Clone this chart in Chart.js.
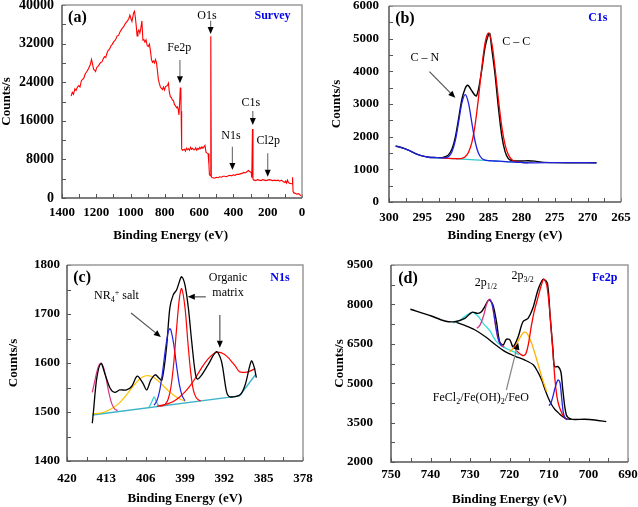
<!DOCTYPE html>
<html lang="en">
<head>
  <meta charset="UTF-8">
  <title>XPS spectra</title>
  <script src="https://cdn.jsdelivr.net/npm/chart.js"></script>
  <style>
    body { margin: 0; background: #fff; }
    #wrap { position: relative; width: 638px; height: 507px; }
    canvas { position: absolute; }
  </style>
</head>
<body>
<div id="wrap">
  <canvas id="chartA" width="319" height="250" style="left:0;top:0"></canvas>
  <canvas id="chartB" width="319" height="250" style="left:319px;top:0"></canvas>
  <canvas id="chartC" width="319" height="257" style="left:0;top:250px"></canvas>
  <canvas id="chartD" width="319" height="257" style="left:319px;top:250px"></canvas>
</div>

<script>
  // (a) survey spectrum
  const surveyE = [1347, 1340, 1333, 1325, 1318, 1310, 1302, 1295, 1287, 1280, 1272, 1265, 1257, 1250, 1242, 1235, 1228, 1222, 1216, 1210, 1204, 1198, 1190, 1182, 1175, 1167, 1160, 1152, 1145, 1138, 1130, 1122, 1115, 1108, 1100, 1092, 1085, 1078, 1070, 1062, 1055, 1048, 1040, 1032, 1025, 1018, 1010, 1004, 998, 992, 987, 982, 977, 972, 966, 962, 957, 952, 946, 940, 934, 928, 922, 916, 910, 903, 897, 890, 884, 878, 872, 866, 860, 855, 849, 843, 838, 832, 826, 820, 814, 808, 802, 796, 790, 784, 779, 774, 768, 762, 756, 750, 744, 738, 732, 727, 722, 718, 714, 710, 707, 705, 703, 701, 698, 692, 686, 680, 674, 668, 662, 656, 650, 644, 638, 632, 626, 620, 614, 608, 602, 596, 590, 584, 578, 572, 566, 560, 554, 548, 543, 540, 535, 532, 529, 525, 518, 510, 500, 490, 480, 470, 460, 450, 440, 430, 420, 410, 400, 390, 380, 370, 360, 350, 340, 330, 320, 312, 306, 300, 296, 293, 289, 286, 282, 278, 270, 260, 250, 240, 230, 220, 210, 200, 190, 180, 170, 160, 150, 140, 130, 120, 110, 100, 95, 90, 85, 80, 75, 70, 62, 58, 55, 52, 48, 40, 30, 20, 12, 5, 2];
  const surveyCounts = [21100, 21900, 21500, 22600, 22300, 23000, 23300, 23000, 24300, 24600, 24900, 25700, 26100, 26500, 27100, 27600, 28700, 27800, 26700, 26500, 26200, 27000, 27300, 27700, 28100, 28200, 28800, 29300, 29100, 30000, 30600, 30900, 31500, 31800, 32300, 32600, 33000, 33600, 33700, 34400, 34800, 35200, 35500, 36100, 36400, 36700, 37200, 37900, 37200, 36600, 37500, 38400, 38700, 37400, 35300, 33600, 34500, 34800, 34200, 35200, 36700, 32700, 32800, 32300, 32800, 31600, 31400, 31900, 30500, 28700, 28100, 28400, 28000, 28700, 28100, 26300, 24600, 23700, 23000, 22700, 22500, 23000, 22400, 23100, 23200, 23400, 23800, 22000, 21000, 20800, 20300, 20200, 19400, 19100, 18700, 18900, 18400, 17200, 19500, 22800, 22900, 18000, 13000, 10200, 9900, 10000, 10100, 9700, 10300, 10000, 10200, 9900, 10500, 10100, 10300, 10000, 10000, 10400, 9900, 10300, 10100, 10500, 10200, 10600, 10300, 10600, 10900, 9500, 9300, 9200, 7000, 4800, 4600, 33500, 4400, 4200, 4200, 4100, 4300, 4200, 4400, 4300, 4500, 4500, 4400, 4600, 4700, 4600, 4800, 4700, 4900, 4900, 5000, 5100, 5300, 5200, 5500, 5700, 5500, 5400, 5300, 4200, 14300, 3900, 3700, 3700, 3600, 3800, 3700, 3600, 3800, 3700, 3600, 3700, 3800, 3700, 3600, 3700, 3600, 3700, 3500, 3700, 3400, 3200, 3500, 3100, 3700, 3300, 3100, 3000, 3000, 2900, 4300, 1300, 1100, 1000, 800, 900, 600, 500, 250];

  // (b) C1s
  const c1sE = [299, 298, 297, 296, 295, 294, 293, 292, 291.5, 291, 290.5, 290, 289.5, 289, 288.5, 288.2, 288, 287.5, 287, 286.8, 286.5, 286, 285.5, 285, 284.8, 284.5, 284, 283.5, 283, 282.5, 282, 281.5, 281, 280, 279, 278, 277, 275, 272, 268.7];
  const c1sCounts = [1714, 1660, 1580, 1480, 1410, 1370, 1360, 1360, 1385, 1450, 1620, 1980, 2550, 3150, 3480, 3570, 3560, 3400, 3260, 3250, 3450, 4050, 4750, 5130, 5160, 4700, 3900, 2900, 2050, 1550, 1330, 1270, 1255, 1255, 1265, 1250, 1220, 1205, 1200, 1200];
  const c1sCNE = [299, 298, 297, 296, 295, 294, 293, 292, 291.5, 291, 290.5, 290, 289.5, 289, 288.5, 288, 287.5, 287, 286.5, 286, 285.5, 285, 284, 283, 282, 281, 280, 278, 275, 272, 268.7];
  const c1sCN = [1714, 1660, 1580, 1480, 1410, 1370, 1360, 1350, 1354, 1393, 1536, 1879, 2444, 3032, 3287, 3020, 2420, 1844, 1490, 1335, 1284, 1266, 1255, 1243, 1231, 1220, 1210, 1200, 1205, 1205, 1200];
  const c1sCCE = [292, 291, 290, 289.5, 289, 288.5, 288, 287.5, 287, 286.5, 286, 285.5, 285, 284.5, 284, 283.5, 283, 282.5, 282, 281.5, 281, 280.5, 280, 279];
  const c1sCC = [1350, 1336, 1325, 1325, 1336, 1385, 1520, 1824, 2377, 3188, 4117, 4881, 5176, 4869, 4094, 3153, 2330, 1766, 1450, 1303, 1243, 1221, 1210, 1205];
  const c1sBgE = [293, 289, 285, 281, 279];
  const c1sBg = [1360, 1313, 1266, 1220, 1205];

  // (c) N1s
  const n1sE = [415.5, 415.3, 414.7, 413.95, 413.2, 412.3, 411.5, 410.6, 409.4, 408.5, 407.5, 406.5, 405.8, 405.1, 404.3, 403.6, 403.1, 402.3, 401.7, 401.1, 400.5, 400.0, 399.6, 399.0, 398.4, 397.8, 397.2, 396.8, 396.0, 394.9, 393.4, 392.5, 391.6, 391.0, 389.2, 388.3, 387.2, 386.7, 386.3];
  const n1sCounts = [1477, 1500, 1569, 1599, 1576, 1548, 1540, 1545, 1545, 1552, 1573, 1559, 1545, 1565, 1576, 1569, 1565, 1630, 1712, 1739, 1749, 1766, 1776, 1759, 1712, 1643, 1582, 1567, 1576, 1596, 1623, 1603, 1541, 1531, 1535, 1555, 1604, 1592, 1570];
  const n1sBgE = [415.5, 389.3, 386.4];
  const n1sBg = [1494, 1533, 1577];
  const n1sPk1E = [415.5, 415, 414.5, 414, 413.5, 413, 412.5, 412, 411.5, 411];
  const n1sPk1 = [1540, 1566, 1590, 1600, 1591, 1566, 1537, 1516, 1506, 1503];
  const n1sPk2E = [415.5, 414, 412.5, 411, 410, 409, 408, 407, 406, 405, 404, 403, 402, 401, 400, 399];
  const n1sPk2 = [1496, 1498, 1504, 1515, 1527, 1541, 1556, 1568, 1574, 1573, 1566, 1555, 1544, 1534, 1527, 1522];
  const n1sPk3E = [405.4, 404.9, 404.5, 404.1, 403.6];
  const n1sPk3 = [1510, 1521, 1531, 1521, 1511];
  const n1sSaltE = [404.5, 404, 403.5, 403, 402.5, 402, 401.7, 401.5, 401, 400.5, 400, 399.5, 399];
  const n1sSalt = [1514, 1523, 1544, 1581, 1627, 1663, 1670, 1667, 1638, 1594, 1556, 1533, 1523];
  const n1sOrgE = [403.5, 403, 402.5, 402, 401.5, 401, 400.5, 400, 399.6, 399, 398.5, 398, 397.5, 397, 396.5, 396.2];
  const n1sOrg = [1512, 1513, 1516, 1526, 1551, 1600, 1670, 1732, 1752, 1713, 1644, 1582, 1544, 1529, 1524, 1523];
  const n1sOrg2E = [404, 403, 402, 401, 400, 399, 398, 397, 396, 395, 394, 393.2, 392, 391, 390, 389.3, 388.5, 387.5, 386.5];
  const n1sOrg2 = [1512, 1514, 1517, 1522, 1530, 1541, 1555, 1572, 1591, 1607, 1618, 1622, 1618, 1607, 1593, 1582, 1581, 1583, 1589];

  // (d) Fe2p
  const fe2pE = [745.1, 739.8, 736.4, 733.9, 731.3, 729.5, 728.0, 727.1, 726.3, 725.2, 724.2, 723.3, 722.5, 721.6, 720.8, 719.9, 719.1, 717.8, 716.6, 715.3, 714.1, 712.8, 711.8, 711.3, 710.4, 709.7, 709.0, 708.6, 707.7, 707.0, 706.5, 705.6, 704.4, 701.0, 698.4, 695.5];
  const fe2pCounts = [7814, 7559, 7370, 7342, 7470, 7700, 7660, 7720, 7910, 8170, 7980, 7340, 6580, 6455, 6670, 6650, 6390, 6770, 7340, 7470, 7850, 8550, 8900, 8955, 8800, 7530, 6265, 5630, 5630, 5440, 4740, 3790, 3630, 3630, 3600, 3535];
  const fe2pBgE = [733.9, 731.3, 728.7, 726, 723.7, 721.1, 718.5, 716.1, 714, 712.8, 711.8, 711, 710.2, 709.4, 708.5, 707.6, 706.5, 705.5, 704.4];
  const fe2pBg = [7342, 7200, 7026, 6760, 6480, 6200, 6020, 5880, 5700, 5420, 5100, 4750, 4450, 4200, 4000, 3870, 3720, 3640, 3630];
  const fe2pSatE = [734.2, 732.5, 731, 729.5, 728, 726.5, 725, 723.5, 722, 720.5, 719, 717.5];
  const fe2pSat = [7300, 7400, 7580, 7700, 7560, 7250, 7000, 6620, 6420, 6300, 6200, 6080];
  const fe2p12E = [728.3, 727.5, 726.5, 725.8, 725.1, 724.5, 724, 723.5, 723, 722.5, 722, 721.3];
  const fe2p12 = [7090, 7200, 7600, 8000, 8195, 8050, 7650, 7150, 6750, 6530, 6430, 6380];
  const fe2pEnvE = [725.1, 724.5, 724, 723.5, 723, 722.5, 722];
  const fe2pEnv = [8195, 8060, 7700, 7200, 6780, 6540, 6420];
  const fe2pFeOE = [720, 719, 718, 717, 716.3, 715.5, 714.5, 713.5, 712.5, 711.5, 710.6];
  const fe2pFeO = [6200, 6330, 6560, 6820, 6940, 6880, 6560, 6100, 5580, 5080, 4680];
  const fe2p32E = [719, 718, 717, 716.4, 715.8, 715.2, 714.5, 713.8, 713, 712, 711.3, 710.6, 710, 709.5, 709, 708.5, 708, 707.5, 707, 706.5, 706, 705.5];
  const fe2p32 = [6420, 6200, 6080, 6050, 6150, 6500, 7150, 7700, 8150, 8700, 8960, 8750, 8050, 7150, 6200, 5150, 4500, 4150, 3950, 3780, 3680, 3630];
  const fe2pLowE = [710, 709.5, 709, 708.5, 708, 707.6, 707.2, 706.8, 706.4, 706, 705.5];
  const fe2pLow = [4150, 4250, 4500, 4800, 5050, 5120, 5000, 4450, 3900, 3700, 3600];

  const SERIF = '"Liberation Serif", "Times New Roman", serif';

  function pts(xs, ys) {
    return xs.map((v, i) => ({ x: v, y: ys[i] }));
  }

  function line(xs, ys, color, width, order, tension) {
    return {
      data: pts(xs, ys),
      borderColor: color,
      borderWidth: width,
      showLine: true,
      pointRadius: 0,
      tension: tension,
      order: order
    };
  }

  // frame, inward ticks, labels and arrows
  const decor = {
    id: 'decor',
    afterDraw(chart, args, o) {
      const { ctx, chartArea: a, scales: { x, y } } = chart;
      ctx.save();

      ctx.strokeStyle = '#555';
      ctx.lineWidth = 1;
      ctx.beginPath();
      for (let v = x.min; v <= x.max + 1e-6; v += o.minorX) {
        const px = Math.round(x.getPixelForValue(v)) + 0.5;
        ctx.moveTo(px, a.bottom);
        ctx.lineTo(px, a.bottom - 4);
      }
      for (let v = y.min; v <= y.max + 1e-6; v += o.minorY) {
        const py = Math.round(y.getPixelForValue(v)) + 0.5;
        ctx.moveTo(a.left, py);
        ctx.lineTo(a.left + 4, py);
      }
      ctx.stroke();

      ctx.lineWidth = 1.5;
      ctx.strokeStyle = '#999';
      ctx.beginPath();
      ctx.moveTo(a.left, a.top);
      ctx.lineTo(a.right, a.top);
      ctx.lineTo(a.right, a.bottom);
      ctx.stroke();
      ctx.strokeStyle = '#555';
      ctx.beginPath();
      ctx.moveTo(a.left, a.top);
      ctx.lineTo(a.left, a.bottom);
      ctx.lineTo(a.right, a.bottom);
      ctx.stroke();

      (o.arrows || []).forEach(ar => {
        const x1 = x.getPixelForValue(ar.x1), y1 = y.getPixelForValue(ar.y1);
        const x2 = x.getPixelForValue(ar.x2), y2 = y.getPixelForValue(ar.y2);
        const ang = Math.atan2(y2 - y1, x2 - x1);
        const hl = 7, hw = 3;
        const bx = x2 - hl * Math.cos(ang), by = y2 - hl * Math.sin(ang);
        ctx.strokeStyle = ar.shaft || '#777';
        ctx.lineWidth = 1.2;
        ctx.beginPath();
        ctx.moveTo(x1, y1);
        ctx.lineTo(bx, by);
        ctx.stroke();
        ctx.fillStyle = '#000';
        ctx.beginPath();
        ctx.moveTo(x2, y2);
        ctx.lineTo(bx + hw * Math.sin(ang), by - hw * Math.cos(ang));
        ctx.lineTo(bx - hw * Math.sin(ang), by + hw * Math.cos(ang));
        ctx.closePath();
        ctx.fill();
      });

      (o.notes || []).forEach(n => {
        const size = n.size || 12;
        const parts = n.parts || [{ t: n.t }];
        const fontFor = p => (n.bold ? 'bold ' : '') + (p.sub || p.sup ? Math.round(size * 0.68) : size) + 'px ' + SERIF;
        let total = 0;
        parts.forEach(p => { ctx.font = fontFor(p); total += ctx.measureText(p.t).width; });
        let px = x.getPixelForValue(n.x);
        if (n.align !== 'left') px -= total / 2;
        const py = y.getPixelForValue(n.y);
        ctx.fillStyle = n.color || '#000';
        ctx.textBaseline = 'alphabetic';
        ctx.textAlign = 'left';
        parts.forEach(p => {
          ctx.font = fontFor(p);
          const dy = p.sub ? size * 0.22 : (p.sup ? -size * 0.38 : 0);
          ctx.fillText(p.t, px, py + size * 0.35 + dy);
          px += ctx.measureText(p.t).width;
        });
      });

      ctx.restore();
    }
  };

  function makeChart(id, cfg) {
    const tickFont = { family: SERIF, size: 13, weight: 'bold' };
    const yTickFont = { family: SERIF, size: cfg.yFont || 13, weight: 'bold' };
    const titleFont = { family: SERIF, size: 13, weight: 'bold', lineHeight: 1 };
    return new Chart(document.getElementById(id), {
      type: 'scatter',
      data: { datasets: cfg.datasets },
      plugins: [decor],
      options: {
        responsive: false,
        animation: false,
        devicePixelRatio: 1,
        layout: { padding: cfg.padding },
        plugins: {
          legend: { display: false },
          tooltip: { enabled: false },
          decor: cfg.decor
        },
        scales: {
          x: {
            type: 'linear',
            reverse: true,
            min: cfg.xMin,
            max: cfg.xMax,
            grid: { display: false, drawTicks: false },
            border: { display: false },
            ticks: { stepSize: cfg.xStep, font: tickFont, color: '#000', padding: cfg.xPad, maxRotation: 0, autoSkip: false, callback: v => String(v) },
            title: { display: true, text: cfg.xTitle || 'Binding Energy (eV)', font: titleFont, color: '#000', padding: { top: 0, bottom: cfg.xTitlePad } },
            afterFit: s => { s.height = cfg.xHeight; s.paddingLeft = 0; s.paddingRight = 0; }
          },
          y: {
            min: cfg.yMin,
            max: cfg.yMax,
            grid: { display: false, drawTicks: false },
            border: { display: false },
            ticks: { stepSize: cfg.yStep, font: yTickFont, color: '#000', padding: cfg.yPad, autoSkip: false, callback: v => String(v) },
            title: { display: true, text: 'Counts/s', font: titleFont, color: '#000', padding: { top: cfg.yTitlePad, bottom: 0 } },
            afterFit: s => { s.width = cfg.yWidth; s.paddingTop = 0; s.paddingBottom = 0; }
          }
        }
      }
    });
  }

  makeChart('chartA', {
    datasets: [line(surveyE, surveyCounts, '#ff0000', 1.1, 1, 0)],
    xMin: 0, xMax: 1400, xStep: 200, yMin: 0, yMax: 40000, yStep: 8000,
    padding: { top: 5, right: 17, left: 0, bottom: 0 },
    yWidth: 62, xHeight: 52, xPad: 7, yPad: 8, yFont: 14, xTitlePad: 7.5, yTitlePad: 0,
    // title sits a little left of the plot centre in the original
    xTitle: 'Binding Energy (eV)\u00a0\u00a0\u00a0\u00a0\u00a0\u00a0\u00a0',
    decor: {
      minorX: 100, minorY: 4000,
      notes: [
        { t: '(a)', x: 1310, y: 37700, size: 16, bold: true },
        { t: 'Survey', x: 172, y: 37900, size: 12, bold: true, color: '#0000ee' },
        { t: 'O1s', x: 554, y: 37900 },
        { t: 'Fe2p', x: 716, y: 31300 },
        { t: 'N1s', x: 414, y: 13060 },
        { t: 'C1s', x: 299, y: 19960 },
        { t: 'Cl2p', x: 197, y: 12020 }
      ],
      arrows: [
        { x1: 533, y1: 36750, x2: 533, y2: 33990 },
        { x1: 712, y1: 28600, x2: 712, y2: 23770 },
        { x1: 406, y1: 10630, x2: 406, y2: 5800 },
        { x1: 287, y1: 18030, x2: 287, y2: 15130 },
        { x1: 200, y1: 9260, x2: 200, y2: 4410 }
      ]
    }
  });

  makeChart('chartB', {
    datasets: [
      line(c1sBgE, c1sBg, '#33cccc', 1.3, 4, 0.3),
      line(c1sE, c1sCounts, '#000000', 1.4, 3, 0.3),
      line(c1sCCE, c1sCC, '#ff0000', 1.3, 2, 0.3),
      line(c1sCNE, c1sCN, '#2020e0', 1.3, 1, 0.3)
    ],
    xMin: 265, xMax: 300, xStep: 5, yMin: 0, yMax: 6000, yStep: 1000,
    padding: { top: 6, right: 17, left: 0, bottom: 0 },
    yWidth: 70, xHeight: 48, xPad: 8, yPad: 10, xTitlePad: 7.5, yTitlePad: 10.8,
    decor: {
      minorX: 2.5, minorY: 500,
      notes: [
        { t: '(b)', x: 297.6, y: 5660, size: 16, bold: true },
        { t: 'C1s', x: 268.5, y: 5660, size: 12, bold: true, color: '#0000ee' },
        { t: 'C \u2013 C', x: 280.8, y: 4940 },
        { t: 'C \u2013 N', x: 294.6, y: 4430 }
      ],
      arrows: [
        { x1: 293.9, y1: 3990, x2: 290.0, y2: 3190, shaft: '#555' }
      ]
    }
  });

  makeChart('chartC', {
    datasets: [
      line(n1sBgE, n1sBg, '#3cb4c8', 1.4, 8, 0),
      line(n1sPk2E, n1sPk2, '#ffc000', 1.2, 7, 0.3),
      line(n1sPk1E, n1sPk1, '#d63384', 1.2, 6, 0.3),
      line(n1sPk3E, n1sPk3, '#33cccc', 1.2, 5, 0.3),
      line(n1sOrg2E, n1sOrg2, '#ff0000', 1.2, 4, 0.3),
      line(n1sE, n1sCounts, '#000000', 1.3, 3, 0.3),
      line(n1sSaltE, n1sSalt, '#2020e0', 1.2, 2, 0.3),
      line(n1sOrgE, n1sOrg, '#ff0000', 1.2, 1, 0.3)
    ],
    xMin: 378, xMax: 420, xStep: 7, yMin: 1400, yMax: 1800, yStep: 100,
    padding: { top: 15, right: 16, left: 0, bottom: 0 },
    yWidth: 67, xHeight: 46, xPad: 10, yPad: 7, xTitlePad: 2, yTitlePad: 6.8,
    decor: {
      minorX: 3.5, minorY: 50,
      notes: [
        { t: '(c)', x: 417.3, y: 1776, size: 16, bold: true },
        { t: 'N1s', x: 382.1, y: 1776, size: 12, bold: true, color: '#0000ee' },
        { parts: [{ t: 'NR' }, { t: '4', sub: true }, { t: '+', sup: true }, { t: ' salt' }], x: 411.2, y: 1739 },
        { t: 'Organic', x: 391.35, y: 1776 },
        { t: 'matrix', x: 391.35, y: 1745 }
      ],
      arrows: [
        { x1: 408.6, y1: 1702, x2: 403.3, y2: 1653, shaft: '#555' },
        { x1: 395.3, y1: 1735, x2: 398.5, y2: 1735, shaft: '#555' },
        { x1: 392.8, y1: 1698, x2: 392.8, y2: 1631, shaft: '#555' }
      ]
    }
  });

  makeChart('chartD', {
    datasets: [
      line(fe2pBgE, fe2pBg, '#000000', 1.3, 9, 0.3),
      line(fe2pSatE, fe2pSat, '#33dddd', 1.3, 8, 0.3),
      line(fe2pFeOE, fe2pFeO, '#ffb000', 1.3, 7, 0.3),
      line(fe2pE, fe2pCounts, '#000000', 1.4, 6, 0.3),
      line(fe2p12E, fe2p12, '#d63384', 1.3, 5, 0.3),
      line(fe2pEnvE, fe2pEnv, '#2020e0', 1.1, 4, 0.3),
      line(fe2p32E, fe2p32, '#ff0000', 1.3, 3, 0.3),
      line(fe2pLowE, fe2pLow, '#2020e0', 1.3, 2, 0.3)
    ],
    xMin: 690, xMax: 750, xStep: 10, yMin: 2000, yMax: 9500, yStep: 1500,
    padding: { top: 15, right: 10, left: 0, bottom: 0 },
    yWidth: 72, xHeight: 45, xPad: 5, yPad: 18, xTitlePad: 0.5, yTitlePad: 14,
    decor: {
      minorX: 5, minorY: 750,
      notes: [
        { t: '(d)', x: 745.7, y: 9043, size: 16, bold: true },
        { t: 'Fe2p', x: 695.9, y: 9043, size: 12, bold: true, color: '#0000ee' },
        { parts: [{ t: '2p' }, { t: '1/2', sub: true }], x: 728.8, y: 8853, align: 'left' },
        { parts: [{ t: '2p' }, { t: '3/2', sub: true }], x: 719.5, y: 9119, align: 'left' },
        { parts: [{ t: 'FeCl' }, { t: '2', sub: true }, { t: '/Fe(OH)' }, { t: '2', sub: true }, { t: '/FeO' }], x: 739.4, y: 4486, align: 'left' }
      ],
      arrows: [
        { x1: 720.8, y1: 4741, x2: 717.8, y2: 6542, shaft: '#888' }
      ]
    }
  });
</script>
</body>
</html>
